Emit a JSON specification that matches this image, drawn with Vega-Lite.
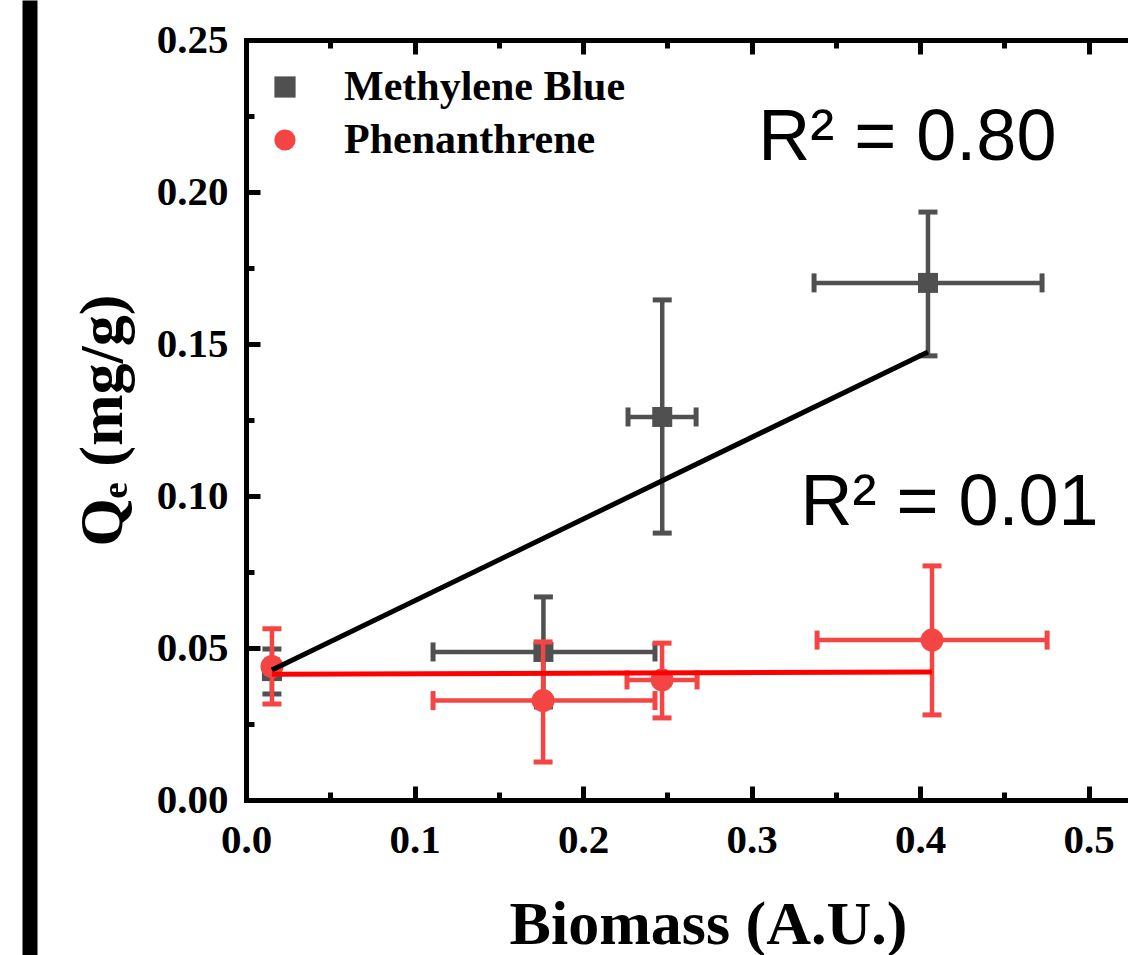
{
  "$schema": "https://vega.github.io/schema/vega-lite/v6.json",
  "width": 882,
  "height": 760,
  "autosize": "none",
  "padding": {"left": 246, "top": 40, "right": 0, "bottom": 155},
  "background": "white",
  "config": {
    "view": {"stroke": null},
    "axis": {"domainColor": "black", "domainWidth": 5, "domainCap": "square", "tickColor": "black", "tickWidth": 5, "labelFont": "Liberation Serif", "labelFontWeight": "bold", "labelFontSize": 41, "labelColor": "black", "titleFont": "Liberation Serif", "titleFontWeight": "bold", "titleFontSize": 62, "titleColor": "black", "grid": false, "labelFlush": false, "labelOverlap": false, "labelBound": false},
    "legend": {"padding": 0, "symbolSize": 450, "labelFont": "Liberation Serif", "labelFontWeight": "bold", "labelFontSize": 42, "labelColor": "black", "labelLimit": 600, "labelOffset": 38, "rowPadding": 11, "symbolStrokeWidth": 0}
  },
  "datasets": {
    "points": [
      {"series": "Methylene Blue", "x": 0.0154, "y": 0.0424, "xlo": 0.0125, "xhi": 0.0185, "ylo": 0.0349, "yhi": 0.0497},
      {"series": "Methylene Blue", "x": 0.1765, "y": 0.0487, "xlo": 0.111, "xhi": 0.2427, "ylo": 0.0306, "yhi": 0.0668},
      {"series": "Methylene Blue", "x": 0.247, "y": 0.126, "xlo": 0.2267, "xhi": 0.2671, "ylo": 0.0878, "yhi": 0.1645},
      {"series": "Methylene Blue", "x": 0.4047, "y": 0.1701, "xlo": 0.3371, "xhi": 0.4724, "ylo": 0.1461, "yhi": 0.1934},
      {"series": "Phenanthrene", "x": 0.0154, "y": 0.0439, "xlo": 0.0125, "xhi": 0.0185, "ylo": 0.0316, "yhi": 0.0563},
      {"series": "Phenanthrene", "x": 0.1763, "y": 0.0327, "xlo": 0.111, "xhi": 0.2427, "ylo": 0.0125, "yhi": 0.052},
      {"series": "Phenanthrene", "x": 0.2469, "y": 0.0395, "xlo": 0.2261, "xhi": 0.2677, "ylo": 0.027, "yhi": 0.0516},
      {"series": "Phenanthrene", "x": 0.4071, "y": 0.0526, "xlo": 0.3389, "xhi": 0.4754, "ylo": 0.028, "yhi": 0.077}
    ],
    "fit": [
      {"series": "Methylene Blue", "x": 0.0154, "y": 0.0428},
      {"series": "Methylene Blue", "x": 0.4047, "y": 0.1474},
      {"series": "Phenanthrene", "x": 0.0154, "y": 0.0414},
      {"series": "Phenanthrene", "x": 0.4071, "y": 0.0421}
    ],
    "labels": [
      {"label": "R² = 0.80", "x": 0.304, "y": 0.2105},
      {"label": "R² = 0.01", "x": 0.329, "y": 0.0905}
    ]
  },
  "layer": [
    {
      "data": {"name": "points"},
      "transform": [{"filter": "datum.series == 'Methylene Blue'"}],
      "mark": {"type": "rule", "strokeWidth": 4.5, "color": "#505050"},
      "encoding": {
        "x": {"field": "x", "type": "quantitative", "scale": {"domain": [0, 0.5234], "nice": false, "zero": false},
          "axis": {"orient": "bottom", "values": [0, 0.1, 0.2, 0.3, 0.4, 0.5], "format": ".1f", "tickSize": -14, "labelPadding": 34, "title": "Biomass (A.U.)", "titleX": 462, "titleY": 143, "titleAlign": "center", "titleBaseline": "alphabetic", "titleAngle": 0}},
        "y": {"field": "ylo", "type": "quantitative", "scale": {"domain": [0, 0.25], "nice": false, "zero": false},
          "axis": {"orient": "left", "values": [0, 0.05, 0.1, 0.15, 0.2, 0.25], "format": ".2f", "tickSize": -14, "labelPadding": 32, "title": "Qₑ (mg/g)", "titleX": -125, "titleY": 380, "titleAngle": -90, "titleAlign": "center", "titleBaseline": "alphabetic"}},
        "y2": {"field": "yhi"}
      }
    },
    {
      "data": {"name": "points"},
      "transform": [{"filter": "datum.series == 'Methylene Blue'"}],
      "mark": {"type": "rule", "strokeWidth": 4.5, "color": "#505050"},
      "encoding": {
        "x": {"field": "xlo", "type": "quantitative", "scale": {"domain": [0, 0.5234], "nice": false, "zero": false},
          "axis": {"orient": "bottom", "values": [0.05, 0.15, 0.25, 0.35, 0.45], "tickSize": -8, "labels": false, "domain": false, "title": null}},
        "x2": {"field": "xhi"},
        "y": {"field": "y", "type": "quantitative", "scale": {"domain": [0, 0.25], "nice": false, "zero": false},
          "axis": {"orient": "left", "values": [0.025, 0.075, 0.125, 0.175, 0.225], "tickSize": -8, "labels": false, "domain": false, "title": null}}
      }
    },
    {
      "data": {"name": "points"},
      "transform": [{"filter": "datum.series == 'Methylene Blue'"}, {"fold": ["ylo", "yhi"], "as": ["k", "v"]}],
      "mark": {"type": "tick", "orient": "horizontal", "size": 19, "thickness": 5, "color": "#505050", "opacity": 1},
      "encoding": {
        "x": {"field": "x", "type": "quantitative", "scale": {"domain": [0, 0.5234], "nice": false, "zero": false},
          "axis": {"orient": "top", "values": [0, 0.1, 0.2, 0.3, 0.4, 0.5], "tickSize": -14, "labels": false, "title": null}},
        "y": {"field": "v", "type": "quantitative", "scale": {"domain": [0, 0.25], "nice": false, "zero": false}, "axis": null}
      }
    },
    {
      "data": {"name": "points"},
      "transform": [{"filter": "datum.series == 'Methylene Blue'"}, {"fold": ["xlo", "xhi"], "as": ["k", "v"]}],
      "mark": {"type": "tick", "orient": "vertical", "size": 19, "thickness": 5, "color": "#505050", "opacity": 1},
      "encoding": {
        "x": {"field": "v", "type": "quantitative", "scale": {"domain": [0, 0.5234], "nice": false, "zero": false},
          "axis": {"orient": "top", "values": [0.05, 0.15, 0.25, 0.35, 0.45], "tickSize": -8, "labels": false, "domain": false, "title": null}},
        "y": {"field": "y", "type": "quantitative", "scale": {"domain": [0, 0.25], "nice": false, "zero": false}, "axis": null}
      }
    },
    {
      "data": {"name": "points"},
      "transform": [{"filter": "datum.series == 'Methylene Blue'"}],
      "mark": {"type": "point", "filled": true, "opacity": 1, "size": 400, "strokeWidth": 0},
      "encoding": {
        "x": {"field": "x", "type": "quantitative", "scale": {"domain": [0, 0.5234], "nice": false, "zero": false}, "axis": null},
        "y": {"field": "y", "type": "quantitative", "scale": {"domain": [0, 0.25], "nice": false, "zero": false}, "axis": null},
        "color": {"field": "series", "type": "nominal", "scale": {"domain": ["Methylene Blue", "Phenanthrene"], "range": ["#505050", "#f44444"]}, "legend": {"title": null, "orient": "none", "legendX": 18, "legendY": 26}},
        "shape": {"field": "series", "type": "nominal", "scale": {"domain": ["Methylene Blue", "Phenanthrene"], "range": ["square", "circle"]}, "legend": {"title": null, "orient": "none", "legendX": 18, "legendY": 26}}
      }
    },
    {
      "data": {"name": "points"},
      "transform": [{"filter": "datum.series == 'Phenanthrene'"}],
      "mark": {"type": "rule", "strokeWidth": 4.5, "color": "#f44444"},
      "encoding": {
        "x": {"field": "x", "type": "quantitative", "scale": {"domain": [0, 0.5234], "nice": false, "zero": false}, "axis": null},
        "y": {"field": "ylo", "type": "quantitative", "scale": {"domain": [0, 0.25], "nice": false, "zero": false}, "axis": null},
        "y2": {"field": "yhi"}
      }
    },
    {
      "data": {"name": "points"},
      "transform": [{"filter": "datum.series == 'Phenanthrene'"}],
      "mark": {"type": "rule", "strokeWidth": 4.5, "color": "#f44444"},
      "encoding": {
        "x": {"field": "xlo", "type": "quantitative", "scale": {"domain": [0, 0.5234], "nice": false, "zero": false}, "axis": null},
        "x2": {"field": "xhi"},
        "y": {"field": "y", "type": "quantitative", "scale": {"domain": [0, 0.25], "nice": false, "zero": false}, "axis": null}
      }
    },
    {
      "data": {"name": "points"},
      "transform": [{"filter": "datum.series == 'Phenanthrene'"}, {"fold": ["ylo", "yhi"], "as": ["k", "v"]}],
      "mark": {"type": "tick", "orient": "horizontal", "size": 19, "thickness": 5, "color": "#f44444", "opacity": 1},
      "encoding": {
        "x": {"field": "x", "type": "quantitative", "scale": {"domain": [0, 0.5234], "nice": false, "zero": false}, "axis": null},
        "y": {"field": "v", "type": "quantitative", "scale": {"domain": [0, 0.25], "nice": false, "zero": false}, "axis": null}
      }
    },
    {
      "data": {"name": "points"},
      "transform": [{"filter": "datum.series == 'Phenanthrene'"}, {"fold": ["xlo", "xhi"], "as": ["k", "v"]}],
      "mark": {"type": "tick", "orient": "vertical", "size": 19, "thickness": 5, "color": "#f44444", "opacity": 1},
      "encoding": {
        "x": {"field": "v", "type": "quantitative", "scale": {"domain": [0, 0.5234], "nice": false, "zero": false}, "axis": null},
        "y": {"field": "y", "type": "quantitative", "scale": {"domain": [0, 0.25], "nice": false, "zero": false}, "axis": null}
      }
    },
    {
      "data": {"name": "points"},
      "transform": [{"filter": "datum.series == 'Phenanthrene'"}],
      "mark": {"type": "point", "filled": true, "opacity": 1, "size": 529, "strokeWidth": 0},
      "encoding": {
        "x": {"field": "x", "type": "quantitative", "scale": {"domain": [0, 0.5234], "nice": false, "zero": false}, "axis": null},
        "y": {"field": "y", "type": "quantitative", "scale": {"domain": [0, 0.25], "nice": false, "zero": false}, "axis": null},
        "color": {"field": "series", "type": "nominal", "scale": {"domain": ["Methylene Blue", "Phenanthrene"], "range": ["#505050", "#f44444"]}, "legend": {"title": null, "orient": "none", "legendX": 18, "legendY": 26}},
        "shape": {"field": "series", "type": "nominal", "scale": {"domain": ["Methylene Blue", "Phenanthrene"], "range": ["square", "circle"]}, "legend": {"title": null, "orient": "none", "legendX": 18, "legendY": 26}}
      }
    },
    {
      "data": {"name": "fit"},
      "mark": {"type": "line", "strokeWidth": 5},
      "encoding": {
        "x": {"field": "x", "type": "quantitative", "scale": {"domain": [0, 0.5234], "nice": false, "zero": false}, "axis": null},
        "y": {"field": "y", "type": "quantitative", "scale": {"domain": [0, 0.25], "nice": false, "zero": false}, "axis": null},
        "stroke": {"field": "series", "type": "nominal", "scale": {"domain": ["Methylene Blue", "Phenanthrene"], "range": ["#000000", "#ff0000"]}, "legend": null}
      }
    },
    {
      "data": {"name": "labels"},
      "mark": {"type": "text", "font": "Liberation Sans", "fontSize": 72, "align": "left", "baseline": "alphabetic", "color": "black"},
      "encoding": {
        "x": {"field": "x", "type": "quantitative", "scale": {"domain": [0, 0.5234], "nice": false, "zero": false}, "axis": null},
        "y": {"field": "y", "type": "quantitative", "scale": {"domain": [0, 0.25], "nice": false, "zero": false}, "axis": null},
        "text": {"field": "label"}
      }
    },
    {
      "data": {"name": "fit"},
      "mark": {"type": "point", "opacity": 0},
      "encoding": {
        "x": {"field": "x", "type": "quantitative", "scale": {"domain": [0, 0.5234], "nice": false, "zero": false}, "axis": null},
        "y": {"field": "y", "type": "quantitative", "scale": {"domain": [0, 0.25], "range": [915, -40], "nice": false, "zero": false},
          "axis": {"orient": "left", "offset": 216.5, "domainWidth": 15, "domainCap": "butt", "ticks": false, "labels": false, "title": null}}
      }
    }
  ],
  "resolve": {"scale": {"y": "independent"}, "axis": {"x": "independent", "y": "independent"}}
}
